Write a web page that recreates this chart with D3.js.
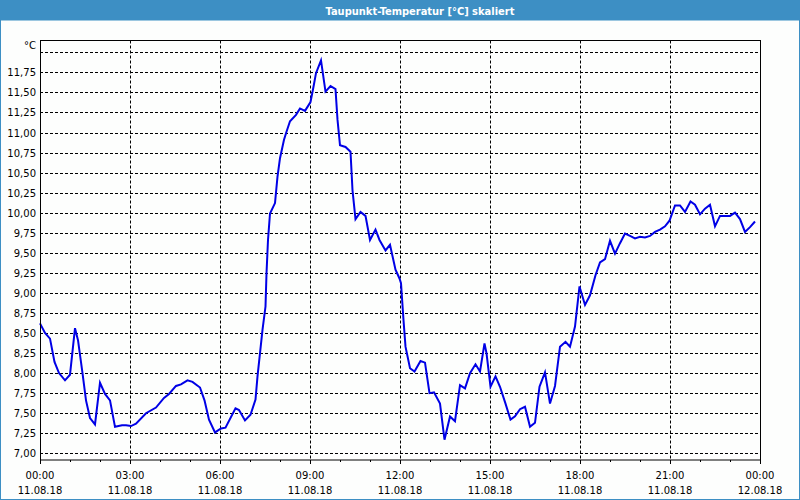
<!DOCTYPE html>
<html>
<head>
<meta charset="utf-8">
<script src="https://cdn.jsdelivr.net/npm/d3@7"></script>
<style>
  html, body { margin: 0; padding: 0; background: #ffffff; }
  svg { display: block; }
  text { font-family: "DejaVu Sans", sans-serif; }
</style>
</head>
<body>
<svg id="chart" width="800" height="500"></svg>
<script>
// ---- data ----
const title = "Taupunkt-Temperatur [°C] skaliert";
const unitLabel = "°C";
// minutes since 11.08.18 00:00
const minutes = [
  0,10,20,29,38,50,60,70,76,85,92,100,110,120,130,140,150,164,172,182,192,212,232,248,258,272,282,295,305,320,329,338,350,362,371,
  391,398,410,421,431,435,440,445,451,453,456,460,470,475,480,488,493,500,512,520,530,541,547,552,562,571,581,591,595,600,611,621,
  625,631,641,651,660,671,679,691,700,711,719,722,727,731,740,749,761,770,779,788,800,809,820,830,840,850,860,871,880,889,893,901,
  911,920,931,941,950,960,970,980,990,999,1010,1020,1030,1040,1051,1060,1070,1079,1090,1100,1111,1120,1130,1140,1150,1160,1170,
  1180,1190,1200,1210,1220,1230,1240,1250,1259,1270,1280,1290,1301,1310,1320,1330,1340,1350,1360,1380,1390,1400,1410,1420,1430
];
const dewpoint = [
  8.62,8.50,8.43,8.14,8.00,7.91,7.98,8.56,8.41,8.00,7.66,7.44,7.36,7.88,7.74,7.66,7.33,7.35,7.35,7.34,7.37,7.50,7.57,7.69,7.74,7.84,7.86,7.91,7.89,7.82,7.66,7.42,7.26,7.31,7.32,
  7.56,7.54,7.41,7.48,7.67,7.96,8.25,8.54,8.83,9.24,9.66,9.99,10.12,10.45,10.68,10.91,11.01,11.14,11.22,11.30,11.27,11.38,11.57,11.74,11.90,11.51,11.58,11.54,11.16,10.84,10.82,10.76,
  10.28,9.92,10.01,9.96,9.66,9.79,9.66,9.53,9.60,9.29,9.18,9.12,8.66,8.33,8.06,8.02,8.15,8.13,7.75,7.76,7.62,7.17,7.46,7.40,7.85,7.81,8.00,8.11,8.02,8.37,8.25,7.83,
  7.96,7.83,7.62,7.42,7.46,7.55,7.58,7.33,7.38,7.83,8.01,7.62,7.84,8.33,8.39,8.33,8.58,9.08,8.85,8.97,9.22,9.38,9.42,9.65,9.49,9.62,9.74,
  9.71,9.68,9.70,9.69,9.71,9.76,9.79,9.83,9.90,10.09,10.09,10.01,10.14,10.10,9.98,10.05,10.10,9.83,9.96,9.96,10.00,9.92,9.76,9.82,9.89
];
const yTicks = [7.00,7.25,7.50,7.75,8.00,8.25,8.50,8.75,9.00,9.25,9.50,9.75,10.00,10.25,10.50,10.75,11.00,11.25,11.50,11.75];
const yGrid = [7.00,7.25,7.50,7.75,8.00,8.25,8.50,8.75,9.00,9.25,9.50,9.75,10.00,10.25,10.50,10.75,11.00,11.25,11.50,11.75,12.00];
const xTicks = [0,180,360,540,720,900,1080,1260,1440];
const xTimeLabels = ["00:00","03:00","06:00","09:00","12:00","15:00","18:00","21:00","00:00"];
const xDateLabels = ["11.08.18","11.08.18","11.08.18","11.08.18","11.08.18","11.08.18","11.08.18","11.08.18","12.08.18"];
const xMinorTicks = d3.range(0, 1441, 60);

// ---- layout ----
const W = 800, H = 500;
const pLeft = 40, pRight = 760, pTop = 40.5, pBottom = 460;
const svg = d3.select("#chart");

// background + frame
svg.append("rect").attr("x", 0.5).attr("y", 0.5).attr("width", W - 1).attr("height", H - 1)
  .attr("fill", "#fdfefd").attr("stroke", "#3d8fc4").attr("stroke-width", 1);
svg.append("rect").attr("x", 0).attr("y", 0).attr("width", W).attr("height", 20.5).attr("fill", "#3d8fc4");
svg.append("text").attr("x", 420).attr("y", 14.5).attr("text-anchor", "middle")
  .attr("fill", "#ffffff").attr("font-weight", "bold").attr("font-size", "11px")
  .style("font-family", "'DejaVu Sans Condensed', 'DejaVu Sans', sans-serif")
  .text(title);

const x = d3.scaleLinear().domain([0, 1440]).range([pLeft, pRight]);
const y = d3.scaleLinear().domain([7, 12]).range([453.3, 52.3]);

// horizontal grid
svg.append("g").selectAll("line").data(yGrid).join("line")
  .attr("x1", pLeft).attr("x2", pRight)
  .attr("y1", d => Math.round(y(d)) + 0.5).attr("y2", d => Math.round(y(d)) + 0.5)
  .attr("stroke", "#000").attr("stroke-width", 1).attr("stroke-dasharray", "3,2");

// vertical grid
svg.append("g").selectAll("line").data(xTicks.slice(1, -1)).join("line")
  .attr("x1", d => Math.round(x(d)) + 0.5).attr("x2", d => Math.round(x(d)) + 0.5)
  .attr("y1", pTop).attr("y2", pBottom)
  .attr("stroke", "#000").attr("stroke-width", 1).attr("stroke-dasharray", "3,2");

// y labels
const fmt = d3.format(".2f");
svg.append("g").selectAll("text").data(yTicks).join("text")
  .attr("x", 36).attr("y", d => Math.round(y(d)) + 4)
  .attr("text-anchor", "end").attr("font-size", "10px").attr("fill", "#000")
  .text(d => fmt(d).replace(".", ","));
svg.append("text").attr("x", 36).attr("y", 49).attr("text-anchor", "end")
  .attr("font-size", "10px").attr("fill", "#000").text(unitLabel);

// x axis ticks (minor + major)
svg.append("g").selectAll("line").data(xMinorTicks).join("line")
  .attr("x1", d => Math.round(x(d)) + 0.5).attr("x2", d => Math.round(x(d)) + 0.5)
  .attr("y1", pBottom).attr("y2", d => pBottom + (d % 180 === 0 ? 4 : 2))
  .attr("stroke", "#000");

// x labels
const xl = svg.append("g");
xl.selectAll("text.t").data(xTicks).join("text").attr("class", "t")
  .attr("x", d => x(d)).attr("y", 479).attr("text-anchor", "middle")
  .attr("font-size", "10px").attr("fill", "#000")
  .text((d, i) => xTimeLabels[i]);
xl.selectAll("text.d").data(xTicks).join("text").attr("class", "d")
  .attr("x", d => x(d)).attr("y", 494).attr("text-anchor", "middle")
  .attr("font-size", "10px").attr("fill", "#000")
  .text((d, i) => xDateLabels[i]);

// data line
const pts = minutes.map((m, i) => [m, dewpoint[i]]);
svg.append("path").datum(pts)
  .attr("d", d3.line().x(d => x(d[0])).y(d => y(d[1])))
  .attr("fill", "none").attr("stroke", "#0000e6").attr("stroke-width", 2)
  .attr("stroke-linejoin", "miter");

// plot frame
svg.append("rect").attr("x", pLeft + 0.5).attr("y", pTop).attr("width", pRight - pLeft).attr("height", pBottom - pTop)
  .attr("fill", "none").attr("stroke", "#000").attr("stroke-width", 1);
</script>
</body>
</html>
